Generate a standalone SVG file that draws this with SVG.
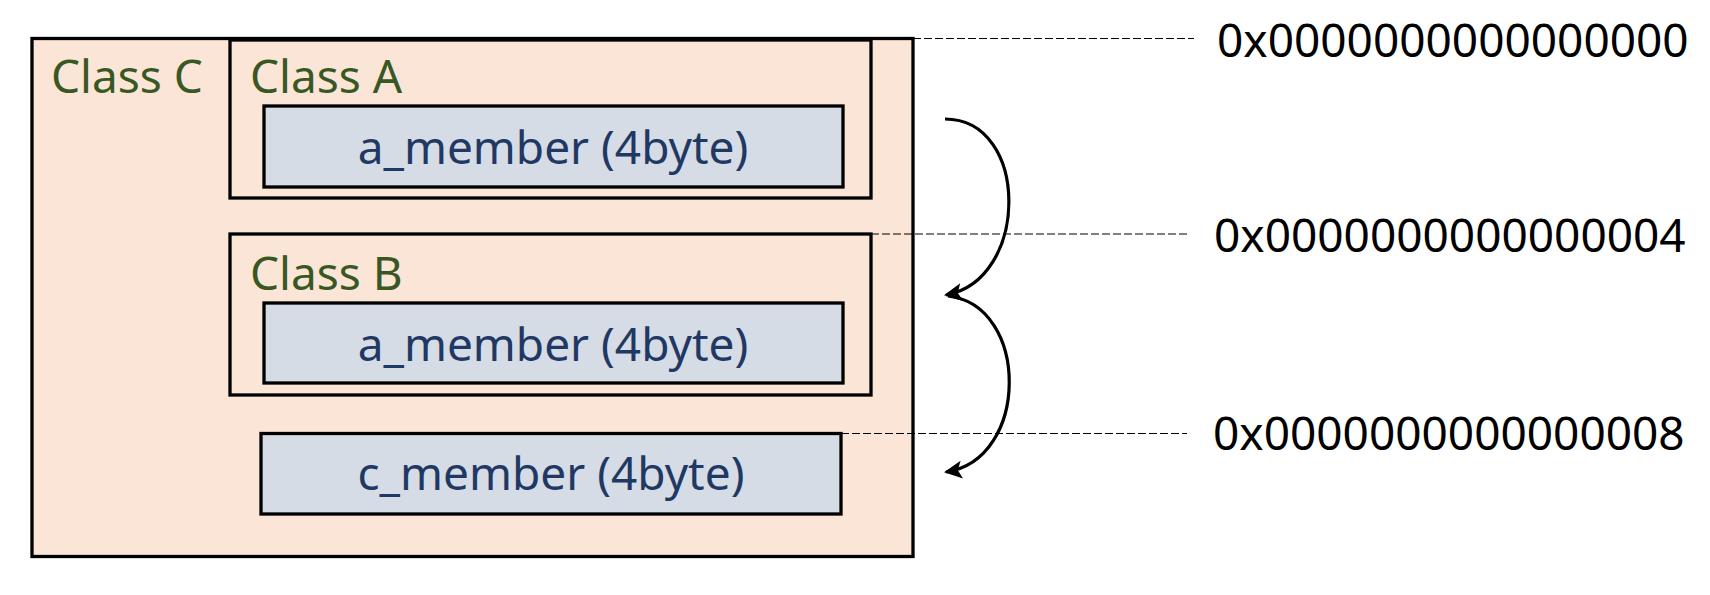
<svg xmlns="http://www.w3.org/2000/svg" width="1710" height="595" viewBox="0 0 1710 595">
  <style>
    .outer { fill: #FBE5D6; stroke: #000; stroke-width: 3.3; }
    .member { fill: #D6DCE5; stroke: #000; stroke-width: 3.3; }
    .cls { font-family: "Noto Sans", "Open Sans", sans-serif; font-size: 46px; fill: #385723; }
    .mtxt { font-family: "Noto Sans", "Open Sans", sans-serif; font-size: 46px; fill: #1F3864; text-anchor: middle; }
    .addr { font-family: "Noto Sans", "Open Sans", sans-serif; font-size: 46px; fill: #000; }
    .dash { stroke: #000; stroke-width: 1; stroke-dasharray: 8 3; fill: none; }
    .arc { stroke: #000; stroke-width: 3.2; fill: none; marker-end: url(#arrow); }
  </style>
  <defs>
    <marker id="arrow" markerUnits="userSpaceOnUse" markerWidth="22" markerHeight="22" refX="16" refY="9" orient="auto">
      <path d="M0,0 L18,9 L0,18 L4,9 z" fill="#000"/>
    </marker>
  </defs>
  <rect width="1710" height="595" fill="#fff"/>

  <g id="classC">
    <rect class="outer" x="32" y="38.5" width="881" height="518"/>
    <text class="cls" x="51" y="93">Class C</text>
  </g>
  <g id="classA">
    <rect class="outer" x="230" y="40" width="641" height="158"/>
    <text class="cls" x="250" y="93">Class A</text>
  </g>
  <g id="classA_member">
    <rect class="member" x="264" y="106" width="579" height="81"/>
    <text class="mtxt" x="553" y="164">a_member (4byte)</text>
  </g>
  <g id="classB">
    <rect class="outer" x="230" y="234" width="641" height="161"/>
    <text class="cls" x="250" y="290">Class B</text>
  </g>
  <g id="classB_member">
    <rect class="member" x="264" y="303" width="579" height="80"/>
    <text class="mtxt" x="553" y="361">a_member (4byte)</text>
  </g>
  <g id="c_member">
    <rect class="member" x="261" y="433.5" width="580" height="80.5"/>
    <text class="mtxt" x="551" y="490">c_member (4byte)</text>
  </g>

  <g id="addr0"><text class="addr" x="1217" y="57">0x0000000000000000</text></g>
  <g id="addr4"><text class="addr" x="1214" y="252">0x0000000000000004</text></g>
  <g id="addr8"><text class="addr" x="1213" y="450">0x0000000000000008</text></g>

  <g id="connectors">
    <line class="dash" x1="913" y1="38.5" x2="1194" y2="38.5"/>
    <line class="dash" x1="871" y1="234" x2="1187" y2="234"/>
    <line class="dash" x1="841" y1="433.5" x2="1187" y2="433.5"/>
    <path class="arc" d="M945,119 C1030,119 1030,280 946,295"/>
    <path class="arc" d="M948,296 C1030,305 1030,460 946,472"/>
  </g>
</svg>
